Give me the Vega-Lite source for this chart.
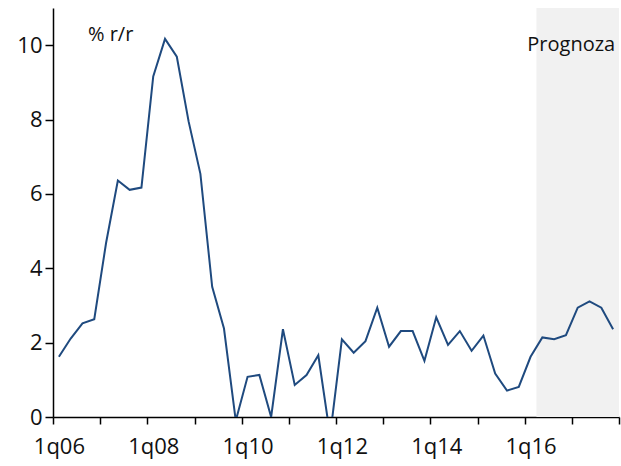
{
  "$schema": "https://vega.github.io/schema/vega-lite/v6.json",
  "autosize": "none",
  "width": 566,
  "height": 409,
  "padding": {"left": 53, "top": 8, "right": 2, "bottom": 49},
  "background": "white",
  "config": {
    "view": {"stroke": null},
    "font": "Open Sans",
    "axis": {"labelBound": false, "labelFlush": false, "labelOverlap": false, "grid": false, "title": null}
  },
  "datasets": {
    "series": [
      {"t": 2006.125, "quarter": "1q06", "value": 1.62},
      {"t": 2006.375, "quarter": "2q06", "value": 2.11},
      {"t": 2006.625, "quarter": "3q06", "value": 2.52},
      {"t": 2006.875, "quarter": "4q06", "value": 2.63},
      {"t": 2007.125, "quarter": "1q07", "value": 4.68},
      {"t": 2007.375, "quarter": "2q07", "value": 6.36},
      {"t": 2007.625, "quarter": "3q07", "value": 6.11},
      {"t": 2007.875, "quarter": "4q07", "value": 6.17},
      {"t": 2008.125, "quarter": "1q08", "value": 9.16},
      {"t": 2008.375, "quarter": "2q08", "value": 10.17},
      {"t": 2008.625, "quarter": "3q08", "value": 9.69},
      {"t": 2008.875, "quarter": "4q08", "value": 7.95},
      {"t": 2009.125, "quarter": "1q09", "value": 6.54},
      {"t": 2009.375, "quarter": "2q09", "value": 3.5},
      {"t": 2009.625, "quarter": "3q09", "value": 2.38},
      {"t": 2009.875, "quarter": "4q09", "value": -0.1},
      {"t": 2010.125, "quarter": "1q10", "value": 1.08},
      {"t": 2010.375, "quarter": "2q10", "value": 1.13},
      {"t": 2010.625, "quarter": "3q10", "value": 0.0},
      {"t": 2010.875, "quarter": "4q10", "value": 2.36},
      {"t": 2011.125, "quarter": "1q11", "value": 0.86},
      {"t": 2011.375, "quarter": "2q11", "value": 1.13},
      {"t": 2011.625, "quarter": "3q11", "value": 1.66},
      {"t": 2011.875, "quarter": "4q11", "value": -0.5},
      {"t": 2012.125, "quarter": "1q12", "value": 2.09},
      {"t": 2012.375, "quarter": "2q12", "value": 1.73},
      {"t": 2012.625, "quarter": "3q12", "value": 2.04},
      {"t": 2012.875, "quarter": "4q12", "value": 2.94},
      {"t": 2013.125, "quarter": "1q13", "value": 1.89},
      {"t": 2013.375, "quarter": "2q13", "value": 2.31},
      {"t": 2013.625, "quarter": "3q13", "value": 2.31},
      {"t": 2013.875, "quarter": "4q13", "value": 1.51},
      {"t": 2014.125, "quarter": "1q14", "value": 2.68},
      {"t": 2014.375, "quarter": "2q14", "value": 1.94},
      {"t": 2014.625, "quarter": "3q14", "value": 2.31},
      {"t": 2014.875, "quarter": "4q14", "value": 1.78},
      {"t": 2015.125, "quarter": "1q15", "value": 2.19},
      {"t": 2015.375, "quarter": "2q15", "value": 1.17},
      {"t": 2015.625, "quarter": "3q15", "value": 0.71},
      {"t": 2015.875, "quarter": "4q15", "value": 0.81},
      {"t": 2016.125, "quarter": "1q16", "value": 1.62},
      {"t": 2016.375, "quarter": "2q16", "value": 2.14},
      {"t": 2016.625, "quarter": "3q16", "value": 2.09},
      {"t": 2016.875, "quarter": "4q16", "value": 2.2},
      {"t": 2017.125, "quarter": "1q17", "value": 2.94},
      {"t": 2017.375, "quarter": "2q17", "value": 3.11},
      {"t": 2017.625, "quarter": "3q17", "value": 2.94},
      {"t": 2017.875, "quarter": "4q17", "value": 2.36}
    ],
    "forecast": [{"from": 2016.25, "to": 2018, "label": "Prognoza", "lx": 2017.92, "ly": 9.85}],
    "unit": [{"label": "% r/r", "x": 2006.74, "y": 10.12}]
  },
  "layer": [
    {
      "data": {"name": "forecast"},
      "mark": {"type": "rect", "color": "#f1f1f1"},
      "encoding": {
        "x": {
          "field": "from", "type": "quantitative",
          "scale": {"domain": [2006, 2018], "nice": false, "zero": false},
          "axis": {
            "title": null, "grid": false, "tickCount": 100,
            "values": [2006, 2006.125, 2007, 2008, 2008.125, 2009, 2010, 2010.125, 2011, 2012, 2012.125, 2013, 2014, 2014.125, 2015, 2016, 2016.125, 2017, 2018],
            "labelExpr": "datum.value % 1 != 0 ? '1q' + substring(toString(floor(datum.value)), 2) : ''",
            "tickOpacity": {"condition": {"test": "datum.value % 1 == 0", "value": 1}, "value": 0},
            "labelBound": false, "labelFlush": false, "labelOverlap": false,
            "domainColor": "#000", "domainWidth": 1.5, "tickColor": "#000", "tickWidth": 1.5, "tickSize": 7,
            "labelFontSize": 22, "labelColor": "#111", "labelPadding": 12
          }
        },
        "x2": {"field": "to"},
        "y": {
          "datum": 0, "type": "quantitative",
          "scale": {"domain": [0, 11], "nice": false, "zero": false},
          "axis": {
            "title": null, "grid": false, "values": [0, 2, 4, 6, 8, 10], "format": "d",
            "domainColor": "#000", "domainWidth": 1.5, "tickColor": "#000", "tickWidth": 1.5, "tickSize": 8,
            "labelFontSize": 22, "labelColor": "#111", "labelPadding": 3
          }
        },
        "y2": {"datum": 11}
      }
    },
    {
      "data": {"name": "series"},
      "mark": {"type": "line", "color": "#1F4A7F", "strokeWidth": 2, "clip": true},
      "encoding": {
        "x": {"field": "t", "type": "quantitative"},
        "y": {"field": "value", "type": "quantitative"}
      }
    },
    {
      "data": {"name": "forecast"},
      "mark": {"type": "text", "align": "right", "baseline": "alphabetic", "fontSize": 20, "color": "#111"},
      "encoding": {
        "x": {"field": "lx", "type": "quantitative"},
        "y": {"field": "ly", "type": "quantitative"},
        "text": {"field": "label"}
      }
    },
    {
      "data": {"name": "unit"},
      "mark": {"type": "text", "align": "left", "baseline": "alphabetic", "fontSize": 20, "color": "#111"},
      "encoding": {
        "x": {"field": "x", "type": "quantitative"},
        "y": {"field": "y", "type": "quantitative"},
        "text": {"field": "label"}
      }
    }
  ]
}
